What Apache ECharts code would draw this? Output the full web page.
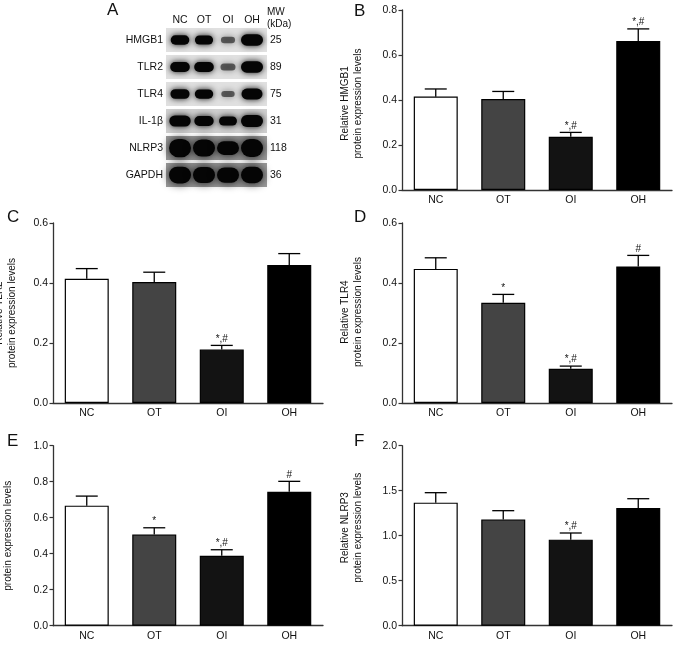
<!DOCTYPE html>
<html>
<head>
<meta charset="utf-8">
<style>html,body{margin:0;padding:0;background:#fff}#c{width:677px;height:645px}</style>
<script src="https://cdn.jsdelivr.net/npm/echarts@6/dist/echarts.min.js"></script>
</head>
<body>
<div id="c"></div>
<script>
const groups = ['NC', 'OT', 'OI', 'OH'];
const barColors = ['#ffffff', '#444444', '#131313', '#000000'];

const hmgb1Means = [0.415, 0.404, 0.237, 0.662];
const hmgb1Upper = [0.449, 0.438, 0.256, 0.716];
const hmgb1Marks = ['', '', '*,#', '*,#'];

const tlr2Means = [0.414, 0.403, 0.178, 0.460];
const tlr2Upper = [0.448, 0.436, 0.192, 0.498];
const tlr2Marks = ['', '', '*,#', ''];

const tlr4Means = [0.447, 0.334, 0.114, 0.455];
const tlr4Upper = [0.484, 0.362, 0.123, 0.492];
const tlr4Marks = ['', '*', '*,#', '#'];

const il1Means = [0.667, 0.506, 0.389, 0.744];
const il1Upper = [0.720, 0.544, 0.422, 0.802];
const il1Marks = ['', '*', '*,#', '#'];

const nlrp3Means = [1.367, 1.181, 0.956, 1.307];
const nlrp3Upper = [1.478, 1.278, 1.030, 1.411];
const nlrp3Marks = ['', '', '*,#', ''];

const blotRows = ['HMGB1', 'TLR2', 'TLR4', 'IL-1β', 'NLRP3', 'GAPDH'];
const blotWeights = ['25', '89', '75', '31', '118', '36'];
const blotDensity = [
  [0.72, 0.68, 0.34, 1.00],
  [0.80, 0.80, 0.42, 1.00],
  [0.76, 0.70, 0.28, 0.92],
  [0.95, 0.78, 0.66, 1.05],
  [1.90, 1.75, 1.30, 1.85],
  [1.70, 1.60, 1.50, 1.65]
];

const FONT = '"Liberation Sans", Arial, Helvetica, sans-serif';
const AXIS = '#333333';

const panels = [
  {letter: 'B', title: 'Relative HMGB1\nprotein expression levels', means: hmgb1Means, upper: hmgb1Upper, marks: hmgb1Marks, max: 0.8, step: 0.2, left: 402, top: 10, gap: 37.5, shift: -7},
  {letter: 'C', title: 'Relative TLR2\nprotein expression levels', means: tlr2Means, upper: tlr2Upper, marks: tlr2Marks, max: 0.6, step: 0.2, left: 53, top: 223, gap: 34.5, shift: 0},
  {letter: 'D', title: 'Relative TLR4\nprotein expression levels', means: tlr4Means, upper: tlr4Upper, marks: tlr4Marks, max: 0.6, step: 0.2, left: 402, top: 223, gap: 37.5, shift: 2},
  {letter: 'E', title: 'Relative IL-1β\nprotein expression levels', means: il1Means, upper: il1Upper, marks: il1Marks, max: 1.0, step: 0.2, left: 53, top: 445.7, gap: 38, shift: 0},
  {letter: 'F', title: 'Relative NLRP3\nprotein expression levels', means: nlrp3Means, upper: nlrp3Upper, marks: nlrp3Marks, max: 2.0, step: 0.5, left: 402, top: 445.7, gap: 37.5, shift: 16}
];

const grid = [], xAxis = [], yAxis = [], series = [];

panels.forEach((p, i) => {
  grid.push({left: p.left, top: p.top, width: 270, height: 180, outerBoundsMode: 'none'});
  xAxis.push({
    type: 'category', gridIndex: i, data: groups,
    axisLine: {lineStyle: {color: AXIS, width: 1.3}},
    axisTick: {alignWithLabel: true, length: 3.5, lineStyle: {color: AXIS, width: 1.2}},
    axisLabel: {color: '#111', fontFamily: FONT, fontSize: 10.5, margin: 5}
  });
  yAxis.push({
    type: 'value', gridIndex: i, min: 0, max: p.max, interval: p.step,
    splitLine: {show: false},
    axisLine: {show: true, lineStyle: {color: AXIS, width: 1.3}},
    axisTick: {show: true, length: 3.5, lineStyle: {color: AXIS, width: 1.2}},
    axisLabel: {color: '#111', fontFamily: FONT, fontSize: 10.5, margin: 5, formatter: v => v.toFixed(1)},
    name: p.title, nameLocation: 'middle', nameGap: p.gap, nameRotate: 90, nameMoveOverlap: false,
    nameTextStyle: {color: '#111', fontFamily: FONT, fontSize: 10, lineHeight: 13, padding: p.shift >= 0 ? [0, 0, 0, p.shift] : [0, -p.shift, 0, 0]}
  });
  series.push({
    type: 'bar', xAxisIndex: i, yAxisIndex: i, barWidth: 44, z: 2,
    data: p.means.map((v, k) => ({value: v, itemStyle: {color: barColors[k], borderColor: '#000', borderWidth: 1.2}}))
  });
  series.push({
    type: 'custom', xAxisIndex: i, yAxisIndex: i, z: 3,
    data: p.means.map((v, k) => [k, v, p.upper[k]]),
    encode: {x: 0, y: [1, 2]},
    renderItem: (params, api) => {
      const base = api.coord([api.value(0), api.value(1)]);
      const tip = api.coord([api.value(0), api.value(2)]);
      const style = {stroke: '#000', lineWidth: 1.3, fill: null};
      const mark = p.marks[api.value(0)];
      const children = [
        {type: 'line', shape: {x1: base[0], y1: base[1], x2: tip[0], y2: tip[1]}, style},
        {type: 'line', shape: {x1: tip[0] - 11, y1: tip[1], x2: tip[0] + 11, y2: tip[1]}, style}
      ];
      if (mark) {
        children.push({type: 'text', style: {text: mark, x: tip[0], y: tip[1] - 1.5, align: 'center', verticalAlign: 'bottom', fontFamily: FONT, fontSize: 10, fill: '#111'}});
      }
      return {type: 'group', children};
    }
  });
});

// Western blot panel: lanes and rows on a hidden-scale cartesian grid
const blotIdx = panels.length;
grid.push({left: 168, top: 26.5, width: 96, height: 162, outerBoundsMode: 'none'});
xAxis.push({
  type: 'category', gridIndex: blotIdx, position: 'top', data: groups,
  axisLine: {show: false}, axisTick: {show: false},
  axisLabel: {color: '#111', fontFamily: FONT, fontSize: 10.5, margin: 1}
});
yAxis.push({
  type: 'category', gridIndex: blotIdx, inverse: true, data: blotRows,
  axisLine: {show: false}, axisTick: {show: false}, splitLine: {show: false},
  axisLabel: {color: '#111', fontFamily: FONT, fontSize: 10.5, margin: 5}
});
yAxis.push({
  type: 'category', gridIndex: blotIdx, inverse: true, position: 'right', data: blotWeights,
  axisLine: {show: false}, axisTick: {show: false}, splitLine: {show: false},
  axisLabel: {color: '#111', fontFamily: FONT, fontSize: 10.5, margin: 6}
});

const blotCells = [];
blotDensity.forEach((row, r) => row.forEach((d, l) => blotCells.push([l, r, d])));

series.push({
  type: 'custom', xAxisIndex: blotIdx, yAxisIndex: blotIdx, z: 1, silent: true,
  data: blotRows.map((n, r) => [0, r]),
  encode: {x: 0, y: 1},
  renderItem: (params, api) => {
    const c = api.coord([0, api.value(1)]);
    const r = api.value(1);
    return {type: 'rect', shape: {x: 166, y: c[1] - 12, width: 101, height: 24}, style: {fill: r >= 4 ? '#9a9a9a' : (r === 3 ? '#cfcfcf' : '#e0e0e0')}};
  }
});
series.push({
  type: 'custom', xAxisIndex: blotIdx, yAxisIndex: blotIdx, z: 2, silent: true,
  data: blotCells,
  encode: {x: 0, y: 1},
  renderItem: (params, api) => {
    const c = api.coord([api.value(0), api.value(1)]);
    const d = api.value(2);
    const w = 10 + 12 * Math.min(d, 1);
    const h = 4 + 7.5 * d;
    return {
      type: 'rect',
      shape: {x: c[0] - w / 2, y: c[1] - h / 2, width: w, height: h, r: h / 2},
      style: {
        fill: d < 0.5 ? 'rgba(30,30,30,0.65)' : '#050505',
        shadowBlur: d > 1.2 ? 10 : 6,
        shadowColor: d < 0.5 ? 'rgba(0,0,0,0.6)' : 'rgba(0,0,0,0.95)'
      }
    };
  }
});

const letters = [
  {text: 'A', left: 107, top: 2},
  {text: 'B', left: 354, top: 3},
  {text: 'C', left: 7, top: 209},
  {text: 'D', left: 354, top: 209},
  {text: 'E', left: 7, top: 433},
  {text: 'F', left: 354, top: 433}
];

const chart = echarts.init(document.getElementById('c'), null, {renderer: 'canvas', width: 677, height: 645});
chart.setOption({
  animation: false,
  backgroundColor: '#fff',
  title: letters.map(t => ({text: t.text, left: t.left, top: t.top, padding: 0,
    textStyle: {fontFamily: FONT, fontSize: 17, fontWeight: 'normal', color: '#111'}})),
  graphic: [{type: 'text', left: 267, top: 6, style: {text: 'MW\n(kDa)', fontFamily: FONT, fontSize: 10, lineHeight: 12, fill: '#111'}}],
  grid, xAxis,
  yAxis,
  series
});
</script>
</body>
</html>
